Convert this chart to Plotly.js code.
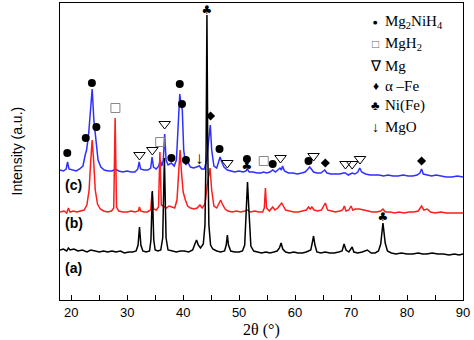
<!DOCTYPE html>
<html><head><meta charset="utf-8">
<script src="https://cdn.plot.ly/plotly-3.0.1.min.js"></script>
<style>html,body{margin:0;padding:0;background:#fff}#c{width:474px;height:340px}</style>
</head><body><div id="c"></div>
<script>
// (a) black
var blackX=[18.0,18.6,19.2,19.5,19.8,20.5,21.2,22.0,22.8,23.5,24.3,25.0,25.8,26.5,27.3,28.0,28.8,29.5,30.3,31.0,31.6,31.95,32.2,32.45,32.8,33.4,34.0,34.25,34.5,34.75,35.0,35.5,36.0,36.35,36.65,36.95,37.3,38.0,38.8,39.5,40.2,41.0,41.7,42.1,42.4,42.7,43.1,43.6,43.9,44.1,44.25,44.4,44.6,44.9,45.3,46.0,46.7,47.4,47.7,47.9,48.1,48.5,49.2,50.0,50.6,51.0,51.3,51.5,51.75,52.1,52.6,53.3,54.0,54.8,55.5,56.2,56.8,57.2,57.5,57.8,58.3,59.0,59.8,60.5,61.3,62.0,62.8,63.1,63.3,63.55,63.9,64.6,65.4,66.2,67.0,67.8,68.4,68.75,69.1,69.6,70.0,70.2,70.5,71.2,72.0,72.9,73.6,74.3,74.9,75.3,75.7,76.1,76.5,77.2,78.0,79.0,80.0,81.0,82.0,82.8,83.5,84.5,85.5,86.5,87.5,88.5,89.3,90.0];
var blackY=[50,51,49,52,50,51,49,50,48,50,49,48,49,48,49,48,49,47,48,48,49,55,73,55,49,48,49,60,109,60,50,49,50,62,142,62,50,49,48,49,49,48,50,56,60,55,52,56,75,150,285,150,75,55,51,49,48,49,55,65,55,49,48,48,49,55,90,118,90,54,49,48,47,48,47,48,49,52,57,51,48,47,48,47,47,48,50,58,64,55,48,47,48,47,47,48,49,56,50,48,51,53,48,47,48,50,47,47,49,56,77,57,49,47,46,47,46,46,47,46,46,47,46,46,45,46,45,46];
// (b) red
var redX=[18.0,18.7,19.2,19.5,19.8,20.4,21.0,21.7,22.3,22.8,23.2,23.5,23.75,24.0,24.3,24.7,25.2,25.8,26.5,27.2,27.6,27.85,28.1,28.5,29.2,30.0,30.7,31.4,32.0,32.2,32.4,33.0,33.6,34.2,34.45,34.7,35.2,35.6,35.85,36.1,36.5,37.0,37.5,38.0,38.5,38.9,39.2,39.45,39.7,40.0,40.4,40.8,41.3,41.9,42.5,43.0,43.4,43.9,44.3,44.8,45.1,45.5,46.0,46.4,46.7,47.0,47.5,48.0,48.8,49.5,50.3,51.0,51.5,52.0,52.8,53.5,54.2,54.5,54.7,54.9,55.4,56.0,56.4,56.9,57.3,57.6,57.9,58.3,59.0,59.8,60.6,61.4,62.0,62.4,62.7,63.0,63.4,64.0,64.7,65.4,65.8,66.5,67.2,68.0,68.5,68.8,69.1,69.6,70.0,70.3,70.8,71.5,72.2,73.0,73.8,74.6,75.3,75.7,76.1,77.0,77.8,78.6,79.5,80.3,81.2,82.0,82.6,83.0,83.6,84.2,85.0,86.0,87.0,88.0,89.0,90.0];
var redY=[88,89,87,92,88,89,88,89,90,95,110,140,160,140,110,96,91,89,88,89,92,182,93,89,88,88,89,88,89,93,89,88,88,90,108,91,90,93,148,95,94,92,94,93,92,100,125,150,128,108,100,94,92,91,92,95,92,96,115,132,110,94,92,96,100,96,91,89,88,89,88,89,90,88,89,88,88,92,112,92,89,93,90,92,95,97,94,90,89,88,88,89,90,93,91,93,90,89,90,97,90,89,88,89,90,94,89,90,94,90,91,91,90,89,88,88,89,91,88,88,87,88,87,88,88,89,94,90,91,88,87,88,87,87,87,87];
// (c) blue
var blueX=[18.0,18.6,19.1,19.35,19.6,20.2,20.9,21.5,22.1,22.5,22.75,23.1,23.45,23.75,24.05,24.45,24.8,25.3,25.9,26.6,27.3,27.9,28.5,29.2,30.0,30.7,31.4,31.9,32.15,32.4,33.0,33.7,34.2,34.45,34.7,35.2,35.65,35.9,36.2,36.45,36.7,36.95,37.3,37.9,38.4,38.8,39.1,39.4,39.65,39.85,40.1,40.45,40.8,41.3,41.9,42.4,42.9,43.3,43.8,44.2,44.55,44.85,45.1,45.5,46.0,46.35,46.6,46.9,47.3,47.9,48.5,49.2,50.0,50.7,51.2,51.5,51.8,52.5,53.2,53.9,54.4,54.9,55.5,56.0,56.5,57.0,57.3,57.55,57.75,58.1,58.8,59.6,60.4,61.2,61.8,62.3,62.6,62.9,63.3,63.9,64.6,65.3,65.7,66.4,67.2,68.0,68.6,69.0,69.5,70.2,70.7,71.2,71.55,71.9,72.6,73.4,74.2,75.0,75.8,76.6,77.5,78.4,79.3,80.2,81.0,81.8,82.3,82.6,82.9,83.6,84.4,85.2,86.0,87.0,88.0,89.0,90.0];
var blueY=[130,129,131,138,131,130,129,131,134,145,150,165,190,211,180,160,140,133,130,129,129,131,129,128,129,128,128,131,138,131,130,130,132,143,133,131,134,140,134,140,166,140,135,137,134,140,175,206,195,190,150,135,138,133,132,133,134,131,131,140,160,175,150,134,132,140,143,138,133,130,129,128,129,128,129,131,128,128,127,127,128,127,128,130,128,131,132,130,134,129,127,127,126,127,128,131,133,131,128,127,127,130,127,126,126,126,127,127,125,127,126,128,132,128,126,125,125,125,124,125,124,124,125,124,124,125,127,131,126,125,124,125,124,123,123,124,123];
// phase markers
var nhX=[19.3,22.6,23.7,24.5,37.9,39.4,39.8,40.5,46.5,51.4,56.0,62.4];
var nhY=[147,162,217,173,142,216,196,140,151,141,136,139];
var mgh2X=[27.9,35.9,54.4];
var mgh2Y=[192,158,139];
var mgX=[32.2,34.5,36.7,47.9,57.4,63.3,69.0,70.2,71.6];
var mgY=[145,150,176,137,142,144,136,136,141];
var feX=[44.9,65.4,82.6];
var feY=[184,137,139];
var niX=[44.25,51.4,75.7];
var niY=[289,133,82];
var mgoX=[42.9];
var mgoY=[140];
var sampleLabels=['(c)','(b)','(a)'];
var legendSymbols=['\u25CF','\u25A1','\u2207','\u2666','\u2663','\u2193'];
var legendTexts=['Mg<sub>2</sub>NiH<sub>4</sub>','MgH<sub>2</sub>','Mg','\u03B1 \u2013Fe','Ni(Fe)','MgO'];
var xTicks=[20,30,40,50,60,70,80,90];

var traces=[
 {x:blueX,y:blueY,mode:'lines',line:{color:'#2f2fff',width:1.5},hoverinfo:'none'},
 {x:redX,y:redY,mode:'lines',line:{color:'#ff1c1c',width:1.5},hoverinfo:'none'},
 {x:blackX,y:blackY,mode:'lines',line:{color:'#000',width:1.5},hoverinfo:'none'},
 {x:nhX,y:nhY,mode:'markers',marker:{symbol:'circle',size:8,color:'#000'},cliponaxis:false},
 {x:mgh2X,y:mgh2Y,mode:'markers',marker:{symbol:'square-open',size:9,color:'#888',line:{width:1}},cliponaxis:false},
 {x:mgX,y:mgY,mode:'markers',marker:{symbol:'triangle-down-open',size:10,color:'#000',line:{width:1}},cliponaxis:false},
 {x:feX,y:feY,mode:'markers',marker:{symbol:'diamond',size:7,color:'#000'},cliponaxis:false},
 {x:niX,y:niY,mode:'text',text:niX.map(function(){return '\u2663';}),textposition:'middle center',textfont:{size:12,color:'#000',family:'DejaVu Sans'},cliponaxis:false},
 {x:mgoX,y:mgoY,mode:'text',text:mgoX.map(function(){return '\u2193';}),textposition:'middle center',textfont:{size:17,color:'#000',family:'Liberation Serif'},cliponaxis:false}
];

var ann=[];
var labY=[185,223,268];
sampleLabels.forEach(function(t,i){
 ann.push({xref:'paper',yref:'paper',x:3/403,y:(300-labY[i])/297,xanchor:'left',yanchor:'middle',text:'<b>'+t+'</b>',showarrow:false,font:{family:'Liberation Sans',size:14,color:'#000'}});
});
var legY=[22,44,66,86,106,127];
var symSize=[5,12,15,12,13,14];
legendTexts.forEach(function(t,i){
 ann.push({xref:'paper',yref:'paper',x:(375.7-60)/403,y:(300-legY[i])/297,xanchor:'center',yanchor:'middle',text:legendSymbols[i],showarrow:false,font:{family:i==0?'DejaVu Sans':'Liberation Serif',size:symSize[i],color:i==1?'#666':'#000'}});
 ann.push({xref:'paper',yref:'paper',x:(383-60)/403,y:(300-legY[i])/297,xanchor:'left',yanchor:'middle',text:t,showarrow:false,font:{family:'Liberation Serif',size:15,color:'#000'}});
});
ann.push({xref:'paper',yref:'paper',x:0.5,y:(300-330)/297,xanchor:'center',yanchor:'middle',text:'2\u03B8 (\u00B0)',showarrow:false,font:{family:'Liberation Serif',size:16,color:'#000'}});
ann.push({xref:'paper',yref:'paper',x:(16-60)/403,y:0.5,xanchor:'center',yanchor:'middle',textangle:-90,text:'Intensity (a.u.)',showarrow:false,font:{family:'Liberation Sans',size:14,color:'#000'}});

var layout={
 width:474,height:340,margin:{l:60,r:11,t:3,b:40},
 paper_bgcolor:'#fff',plot_bgcolor:'#fff',showlegend:false,
 xaxis:{range:[18,90],tickvals:xTicks,ticktext:xTicks.map(String),ticks:'inside',ticklen:5,tickwidth:1,tickcolor:'#000',
   minor:{dtick:5,tick0:0,ticks:'inside',ticklen:5,tickwidth:1,tickcolor:'#000',showgrid:false},
   showline:true,linecolor:'#000',linewidth:1.2,mirror:true,showgrid:false,zeroline:false,
   tickfont:{family:'Liberation Sans',size:13,color:'#000'}},
 yaxis:{range:[0,297],showticklabels:false,ticks:'',showline:true,linecolor:'#000',linewidth:1.2,mirror:true,showgrid:false,zeroline:false},
 annotations:ann
};
Plotly.newPlot('c',traces,layout,{staticPlot:true});
</script></body></html>
